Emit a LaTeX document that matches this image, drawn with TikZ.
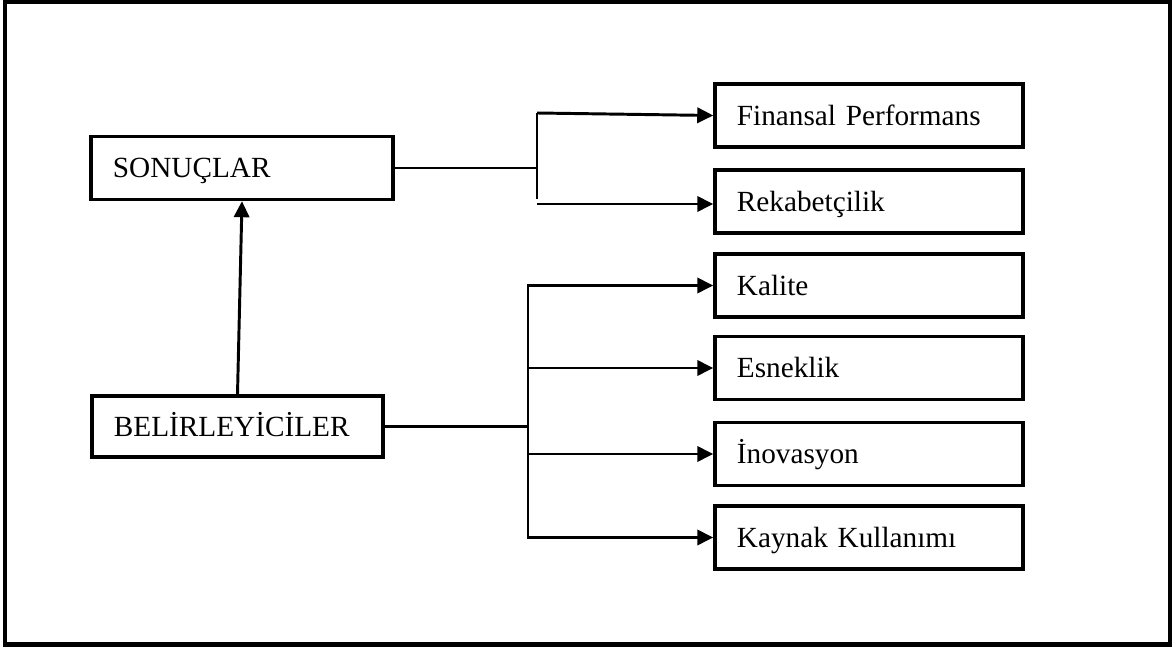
\documentclass[tikz,border=0pt]{standalone}
\usepackage{fontspec}
\setmainfont{Liberation Serif}
\usetikzlibrary{arrows.meta}

\tikzset{
  kutu/.style={draw, line width=2.4pt, align=left, inner xsep=0.55cm, inner ysep=0pt,
    minimum height=1.575cm, text height=13.7pt, text depth=0pt,
    font=\fontsize{20.8pt}{25pt}\selectfont},
  hat/.style={line width=2.1pt},
  ok/.style={hat, -{Triangle[length=0.4cm,width=0.38cm]}}
}

\begin{document}
\begin{tikzpicture}[x=0.025cm, y=-0.025cm]
	\useasboundingbox (0,0) rectangle (1172,648);
	\draw[line width=3pt] (5,1.5) rectangle (1170,644.5);

	\node[kutu, text width=6.45cm] (son) at (242,168) {SONUÇLAR};
	\node[kutu, text width=6.175cm, minimum height=1.525cm] (bel) at (237.5,426.5)
        {BELİRLEYİCİLER};

	\node[kutu, text width=6.6cm] (fin) at (869,115.5) {Finansal Performans};
	\node[kutu, text width=6.6cm] (rek) at (869,201.5) {Rekabetçilik};
	\node[kutu, text width=6.6cm] (kal) at (869,285.5) {Kalite};
	\node[kutu, text width=6.6cm] (esn) at (869,368) {Esneklik};
	\node[kutu, text width=6.6cm] (ino) at (869,454) {İnovasyon};
	\node[kutu, text width=6.6cm] (kay) at (869,537.5) {Kaynak Kullanımı};

	\coordinate (s1) at (537,113); \coordinate (s2) at (537,199);
        \coordinate (s3) at (537,204); \coordinate (b1) at (528,287);

	\draw[hat] (son.east) -- (son.east -| s1); \draw[hat] (s1) --
        (s2); \draw[ok] (s1) -- (fin.west); \draw[ok] (s3) -- (s3 -|
        rek.west);

	\draw[hat] (bel.east) -- (bel.east -| b1); \draw[hat, line
        cap=rect] (kal.west -| b1) -- (kay.west -| b1);
	\foreach \k in {kal,esn,ino,kay}
		\draw[ok] (\k.west -| b1) -- (\k.west);

	\draw[ok] (bel.north) -- (son.south);
\end{tikzpicture}
\end{document}
